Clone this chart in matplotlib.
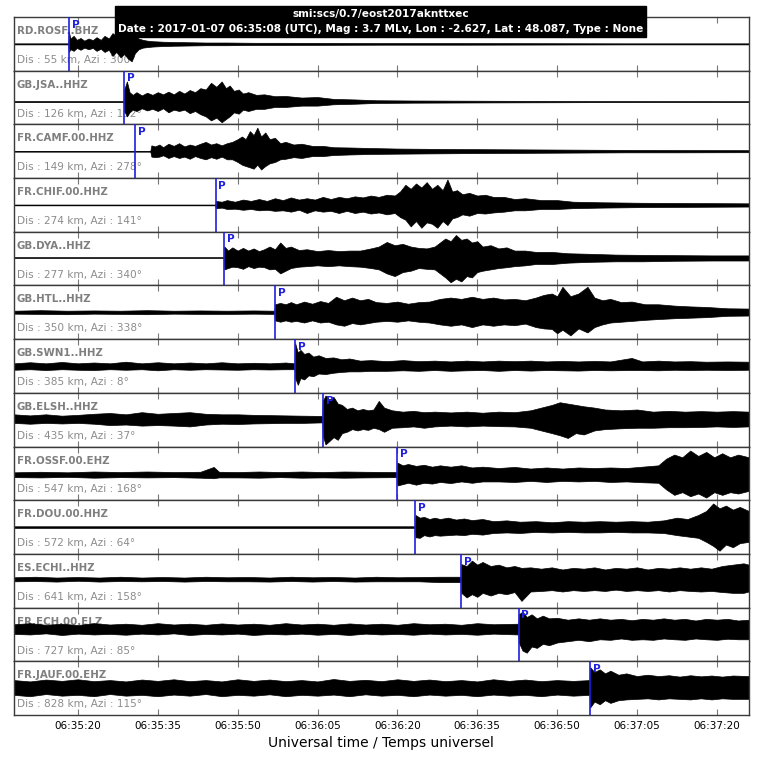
import numpy as np
import matplotlib
matplotlib.use("Agg")
import matplotlib.pyplot as plt
from datetime import datetime

# event origin / start of the time window
ORIGIN = "2017-01-07 06:35:08"
WINDOW = 138.0  # seconds shown

TITLE_1 = "smi:scs/0.7/eost2017aknttxec"
TITLE_2 = ("Date : 2017-01-07 06:35:08 (UTC), Mag : 3.7 MLv, Lon : -2.627, "
           "Lat : 48.087, Type : None")

TICK_LABELS = ["06:35:20", "06:35:35", "06:35:50", "06:36:05", "06:36:20",
               "06:36:35", "06:36:50", "06:37:05", "06:37:20"]

STATIONS = ["RD.ROSF..BHZ", "GB.JSA..HHZ", "FR.CAMF.00.HHZ", "FR.CHIF.00.HHZ",
            "GB.DYA..HHZ", "GB.HTL..HHZ", "GB.SWN1..HHZ", "GB.ELSH..HHZ",
            "FR.OSSF.00.EHZ", "FR.DOU.00.HHZ", "ES.ECHI..HHZ", "FR.ECH.00.ELZ",
            "FR.JAUF.00.EHZ"]
DIST_KM = [55, 126, 149, 274, 277, 350, 385, 435, 547, 572, 641, 727, 828]
AZI_DEG = [300, 152, 278, 141, 340, 338, 8, 37, 168, 64, 158, 85, 115]
# P pick, seconds after origin
P_PICK = [10.3, 20.7, 22.8, 37.9, 39.5, 49.0, 52.8, 58.0, 72.0, 75.4, 84.0, 94.8, 108.2]

# trace envelopes: (seconds, upper, lower), panel units -1..1
ROSF = [(0, 0.02, -0.02), (10.2, 0.02, -0.02), (10.3, 0.45, -0.3), (10.6, 0.2, -0.2),
        (11.2, 0.3, -0.26), (11.8, 0.15, -0.15), (12.5, 0.22, -0.22), (13.2, 0.12, -0.14),
        (14, 0.2, -0.2), (14.8, 0.14, -0.15), (15.5, 0.25, -0.26), (16.3, 0.15, -0.18),
        (17, 0.3, -0.3), (17.8, 0.2, -0.22), (18.5, 0.4, -0.45), (19.2, 0.3, -0.3),
        (20, 0.45, -0.5), (20.7, 0.35, -0.38), (21.4, 0.5, -0.55), (22.1, 0.4, -0.65),
        (22.7, 0.3, -0.35), (23.4, 0.2, -0.2), (24.2, 0.15, -0.14), (25, 0.12, -0.12),
        (26, 0.1, -0.1), (28, 0.08, -0.08), (30, 0.07, -0.07), (33, 0.06, -0.06),
        (36, 0.05, -0.05), (40, 0.05, -0.05), (45, 0.04, -0.04), (50, 0.04, -0.04),
        (60, 0.035, -0.035), (70, 0.03, -0.03), (85, 0.03, -0.03), (100, 0.025, -0.025),
        (115, 0.02, -0.02), (138, 0.02, -0.02)]

JSA = [(0, -0.13, -0.17), (20.6, -0.13, -0.17), (20.7, 0.3, -0.5), (21.2, 0.6, -0.7),
       (21.7, 0.2, -0.55), (22.3, 0.1, -0.45), (23, 0.2, -0.5), (24, 0.08, -0.4),
       (25, 0.18, -0.48), (26, 0.1, -0.42), (27, 0.2, -0.5), (28, 0.12, -0.4),
       (29, 0.22, -0.55), (30, 0.12, -0.45), (31, 0.25, -0.5), (32, 0.15, -0.45),
       (33, 0.28, -0.58), (34, 0.2, -0.5), (35, 0.35, -0.62), (36, 0.3, -0.7),
       (37, 0.55, -0.85), (38, 0.4, -0.75), (39, 0.6, -0.92), (39.8, 0.35, -0.8),
       (40.5, 0.45, -0.7), (41.3, 0.25, -0.55), (42.2, 0.3, -0.6), (43, 0.15, -0.45),
       (44, 0.2, -0.5), (45.5, 0.1, -0.42), (47, 0.12, -0.42), (49, 0.05, -0.35),
       (51, 0.06, -0.35), (54, 0.0, -0.3), (57, 0.02, -0.3), (60, -0.05, -0.25),
       (64, -0.07, -0.23), (68, -0.1, -0.2), (75, -0.11, -0.19), (90, -0.12, -0.18),
       (110, -0.13, -0.17), (138, -0.135, -0.165)]

CAMF = [(0, 0.015, -0.015), (25.6, 0.015, -0.015), (25.8, 0.22, -0.2), (26.5, 0.18, -0.22),
        (27.3, 0.25, -0.2), (28, 0.15, -0.15), (29, 0.28, -0.25), (30, 0.2, -0.18),
        (31, 0.3, -0.25), (32, 0.18, -0.2), (33, 0.25, -0.28), (34, 0.2, -0.18),
        (35, 0.28, -0.25), (36, 0.35, -0.3), (37, 0.25, -0.22), (38, 0.3, -0.28),
        (39, 0.22, -0.2), (40, 0.3, -0.3), (41, 0.35, -0.3), (42, 0.45, -0.4),
        (42.8, 0.55, -0.5), (43.5, 0.45, -0.55), (44.3, 0.75, -0.6), (45, 0.6, -0.65),
        (45.7, 0.88, -0.5), (46.4, 0.55, -0.68), (47.2, 0.7, -0.55), (48, 0.45, -0.45),
        (49, 0.5, -0.4), (50, 0.3, -0.3), (51, 0.35, -0.28), (52.5, 0.25, -0.22),
        (54, 0.28, -0.25), (56, 0.2, -0.18), (58, 0.2, -0.18), (60, 0.15, -0.14),
        (63, 0.14, -0.12), (67, 0.12, -0.1), (72, 0.1, -0.09), (78, 0.09, -0.08),
        (85, 0.08, -0.07), (95, 0.07, -0.06), (105, 0.06, -0.05), (115, 0.05, -0.04),
        (125, 0.045, -0.04), (138, 0.04, -0.035)]

CHIF = [(0, 0.015, -0.015), (37.8, 0.015, -0.015), (37.9, 0.15, -0.12), (39, 0.12, -0.1),
        (40, 0.18, -0.15), (41.5, 0.12, -0.14), (43, 0.2, -0.18), (44.5, 0.15, -0.15),
        (46, 0.22, -0.2), (47.5, 0.15, -0.18), (49, 0.25, -0.22), (50.5, 0.18, -0.2),
        (52, 0.28, -0.25), (53.5, 0.2, -0.18), (55, 0.25, -0.3), (56.5, 0.2, -0.2),
        (58, 0.3, -0.25), (59.5, 0.22, -0.22), (61, 0.3, -0.3), (62.5, 0.25, -0.22),
        (64, 0.32, -0.3), (65.5, 0.28, -0.25), (67, 0.35, -0.32), (68.5, 0.3, -0.28),
        (70, 0.38, -0.35), (71.5, 0.35, -0.3), (72.5, 0.5, -0.45), (73.5, 0.75, -0.55),
        (74.5, 0.6, -0.8), (75.5, 0.8, -0.6), (76.5, 0.65, -0.85), (77.5, 0.85, -0.65),
        (78.5, 0.6, -0.7), (79.5, 0.75, -0.85), (80.5, 0.55, -0.6), (81.4, 0.95, -0.75),
        (82.3, 0.5, -0.5), (83.2, 0.55, -0.45), (84.2, 0.4, -0.35), (85.5, 0.45, -0.4),
        (87, 0.35, -0.3), (88.5, 0.38, -0.32), (90, 0.3, -0.28), (92, 0.3, -0.25),
        (94, 0.22, -0.2), (96, 0.25, -0.2), (99, 0.18, -0.15), (102, 0.18, -0.15),
        (105, 0.12, -0.12), (110, 0.1, -0.1), (118, 0.08, -0.08), (128, 0.07, -0.07),
        (138, 0.06, -0.06)]

DYA = [(0, 0.055, 0.025), (39.4, 0.055, 0.025), (39.5, 0.45, -0.4), (40.2, 0.3, -0.35),
       (41, 0.42, -0.3), (42, 0.3, -0.32), (43, 0.4, -0.38), (44, 0.3, -0.28),
       (45, 0.38, -0.35), (46, 0.28, -0.3), (47, 0.35, -0.32), (48, 0.45, -0.4),
       (49, 0.35, -0.38), (50, 0.6, -0.55), (51, 0.4, -0.45), (52, 0.45, -0.35),
       (53.5, 0.32, -0.3), (55, 0.35, -0.28), (57, 0.28, -0.25), (59, 0.32, -0.28),
       (61, 0.28, -0.25), (63, 0.3, -0.28), (65, 0.3, -0.3), (67, 0.38, -0.35),
       (68.5, 0.45, -0.4), (70, 0.62, -0.55), (71.5, 0.5, -0.65), (73, 0.55, -0.5),
       (74.5, 0.45, -0.45), (76, 0.4, -0.35), (77.5, 0.38, -0.38), (79, 0.45, -0.4),
       (80, 0.6, -0.55), (81, 0.75, -0.7), (82, 0.65, -0.88), (83, 0.88, -0.75),
       (84, 0.7, -0.85), (85, 0.75, -0.65), (86, 0.6, -0.7), (87, 0.65, -0.5),
       (88, 0.45, -0.45), (89.5, 0.5, -0.4), (91, 0.38, -0.35), (92.5, 0.42, -0.32),
       (94, 0.3, -0.28), (96, 0.3, -0.25), (98, 0.25, -0.2), (101, 0.25, -0.2),
       (104, 0.2, -0.15), (108, 0.18, -0.12), (113, 0.15, -0.1), (118, 0.14, -0.1),
       (124, 0.13, -0.08), (131, 0.12, -0.07), (138, 0.12, -0.07)]

HTL = [(0, 0.06, -0.05), (5, 0.08, -0.06), (10, 0.06, -0.07), (15, 0.07, -0.05),
       (20, 0.06, -0.06), (25, 0.08, -0.07), (30, 0.06, -0.05), (35, 0.07, -0.06),
       (40, 0.06, -0.06), (45, 0.07, -0.05), (48.9, 0.06, -0.06), (49, 0.3, -0.3),
       (50, 0.35, -0.35), (51, 0.3, -0.3), (52, 0.38, -0.35), (53, 0.3, -0.32),
       (54.5, 0.4, -0.38), (56, 0.32, -0.3), (57.5, 0.42, -0.38), (59, 0.35, -0.35),
       (60.5, 0.58, -0.45), (62, 0.45, -0.5), (63.5, 0.55, -0.4), (65, 0.45, -0.45),
       (66.5, 0.5, -0.4), (68, 0.38, -0.35), (70, 0.35, -0.32), (72, 0.4, -0.35),
       (74, 0.32, -0.3), (76, 0.38, -0.35), (78, 0.4, -0.38), (80, 0.5, -0.45),
       (82, 0.55, -0.5), (84, 0.5, -0.45), (86, 0.58, -0.55), (88, 0.5, -0.45),
       (90, 0.55, -0.5), (92, 0.48, -0.45), (94, 0.5, -0.48), (96, 0.45, -0.42),
       (98, 0.55, -0.55), (99.5, 0.65, -0.6), (101, 0.7, -0.62), (102, 0.6, -0.78),
       (103, 0.95, -0.65), (104.5, 0.6, -0.86), (106, 0.7, -0.6), (107.7, 0.95, -0.75),
       (109, 0.55, -0.55), (110.5, 0.45, -0.45), (112, 0.5, -0.38), (114, 0.38, -0.35),
       (116, 0.4, -0.32), (118.5, 0.3, -0.28), (121, 0.3, -0.25), (124, 0.25, -0.22),
       (127, 0.22, -0.2), (130, 0.2, -0.18), (134, 0.15, -0.13), (138, 0.14, -0.12)]

SWN1 = [(0, 0.1, -0.14), (3, 0.14, -0.12), (6, 0.1, -0.15), (9, 0.15, -0.12),
        (12, 0.1, -0.14), (15, 0.13, -0.15), (18, 0.1, -0.12), (21, 0.16, -0.14),
        (24, 0.1, -0.12), (27, 0.14, -0.16), (30, 0.1, -0.12), (33, 0.13, -0.14),
        (36, 0.1, -0.12), (39, 0.14, -0.13), (42, 0.1, -0.14), (45, 0.12, -0.12),
        (48, 0.1, -0.13), (51, 0.13, -0.12), (52.7, 0.1, -0.12), (52.8, 0.85, -0.45),
        (53.3, 0.5, -0.7), (53.8, 0.6, -0.45), (54.5, 0.45, -0.5), (55.3, 0.5, -0.35),
        (56.2, 0.35, -0.38), (57.2, 0.4, -0.28), (58.5, 0.3, -0.3), (60, 0.32, -0.25),
        (61.5, 0.25, -0.22), (63, 0.28, -0.2), (65, 0.2, -0.2), (67, 0.22, -0.18),
        (70, 0.18, -0.18), (73, 0.22, -0.16), (76, 0.18, -0.18), (79, 0.2, -0.15),
        (82, 0.17, -0.18), (85, 0.2, -0.16), (88, 0.17, -0.15), (91, 0.2, -0.18),
        (94, 0.18, -0.15), (97, 0.2, -0.17), (100, 0.17, -0.15), (103, 0.19, -0.16),
        (106, 0.17, -0.17), (109, 0.19, -0.15), (112, 0.17, -0.16), (116, 0.3, -0.15),
        (118, 0.17, -0.15), (121, 0.2, -0.16), (124, 0.17, -0.14), (127, 0.18, -0.15),
        (130, 0.16, -0.14), (134, 0.17, -0.15), (138, 0.16, -0.14)]

ELSH = [(0, 0.2, -0.12), (3, 0.16, -0.15), (6, 0.2, -0.12), (9, 0.15, -0.14),
        (12, 0.18, -0.12), (15, 0.22, -0.15), (18, 0.25, -0.2), (21, 0.2, -0.18),
        (24, 0.28, -0.22), (27, 0.22, -0.2), (30, 0.25, -0.22), (33, 0.28, -0.25),
        (36, 0.22, -0.18), (39, 0.2, -0.15), (42, 0.2, -0.16), (45, 0.18, -0.14),
        (48, 0.17, -0.13), (51, 0.16, -0.12), (54, 0.15, -0.12), (57.9, 0.14, -0.1),
        (58, 0.7, -0.6), (58.5, 0.9, -0.92), (59.2, 0.75, -0.8), (60, 0.85, -0.65),
        (60.8, 0.6, -0.75), (61.6, 0.55, -0.5), (62.5, 0.4, -0.45), (63.5, 0.45, -0.35),
        (64.5, 0.35, -0.4), (65.5, 0.4, -0.35), (66.5, 0.35, -0.38), (67.5, 0.38, -0.3),
        (68.5, 0.7, -0.35), (69.5, 0.45, -0.45), (71, 0.35, -0.3), (73, 0.3, -0.28),
        (75, 0.33, -0.25), (77, 0.28, -0.3), (79, 0.3, -0.25), (82, 0.27, -0.22),
        (85, 0.3, -0.25), (88, 0.26, -0.22), (91, 0.3, -0.24), (94, 0.28, -0.25),
        (97, 0.35, -0.3), (99, 0.45, -0.4), (101, 0.55, -0.5), (102.5, 0.65, -0.58),
        (104, 0.6, -0.68), (105.5, 0.55, -0.5), (107, 0.5, -0.55), (109, 0.45, -0.4),
        (111, 0.38, -0.35), (114, 0.35, -0.32), (117, 0.38, -0.3), (120, 0.3, -0.3),
        (123, 0.33, -0.28), (126, 0.3, -0.28), (129, 0.32, -0.27), (132, 0.3, -0.25),
        (135, 0.32, -0.27), (138, 0.3, -0.25)]

OSSF = [(0, 0.04, -0.14), (5, 0.06, -0.15), (10, 0.04, -0.13), (15, 0.07, -0.16),
        (20, 0.05, -0.14), (25, 0.07, -0.15), (30, 0.05, -0.14), (35, 0.06, -0.16),
        (37.5, 0.24, -0.18), (38.5, 0.06, -0.15), (42, 0.05, -0.15), (46, 0.07, -0.16),
        (50, 0.05, -0.14), (54, 0.07, -0.16), (58, 0.05, -0.15), (62, 0.07, -0.16),
        (66, 0.06, -0.15), (71.9, 0.05, -0.14), (72, 0.4, -0.45), (73, 0.3, -0.4),
        (74, 0.35, -0.35), (75.5, 0.28, -0.42), (77, 0.32, -0.35), (78.5, 0.25, -0.38),
        (80, 0.3, -0.32), (82, 0.25, -0.36), (84, 0.3, -0.3), (86, 0.22, -0.35),
        (88, 0.25, -0.3), (91, 0.2, -0.3), (94, 0.24, -0.32), (97, 0.18, -0.28),
        (100, 0.22, -0.32), (103, 0.18, -0.28), (106, 0.22, -0.3), (109, 0.2, -0.28),
        (112, 0.22, -0.32), (115, 0.2, -0.3), (118, 0.25, -0.33), (121, 0.3, -0.35),
        (122.5, 0.55, -0.6), (124, 0.7, -0.8), (125.5, 0.6, -0.7), (127, 0.85, -0.85),
        (128.5, 0.65, -0.75), (130, 0.8, -0.9), (131.5, 0.6, -0.7), (133, 0.75, -0.8),
        (134.5, 0.6, -0.7), (136, 0.7, -0.75), (138, 0.6, -0.65)]

DOU = [(0, 0.03, -0.03), (75.3, 0.03, -0.03), (75.4, 0.45, -0.38), (76.2, 0.35, -0.4),
       (77, 0.38, -0.3), (78, 0.3, -0.35), (79, 0.35, -0.3), (80, 0.3, -0.32),
       (81.5, 0.35, -0.3), (83, 0.28, -0.28), (84.5, 0.32, -0.3), (86, 0.26, -0.25),
       (88, 0.3, -0.28), (90, 0.22, -0.22), (92.5, 0.25, -0.2), (95, 0.2, -0.22),
       (98, 0.22, -0.18), (101, 0.18, -0.2), (104, 0.22, -0.18), (107, 0.2, -0.2),
       (110, 0.22, -0.2), (113, 0.2, -0.18), (116, 0.22, -0.2), (119, 0.2, -0.2),
       (122, 0.25, -0.22), (124.5, 0.35, -0.3), (126.5, 0.3, -0.35), (128.5, 0.45, -0.4),
       (130, 0.6, -0.55), (131.3, 0.88, -0.7), (132.5, 0.7, -0.88), (133.7, 0.8, -0.65),
       (135, 0.65, -0.75), (136.3, 0.75, -0.6), (138, 0.6, -0.55)]

ECHI = [(0, 0.13, -0.02), (4, 0.15, -0.01), (8, 0.12, -0.03), (12, 0.14, 0.0),
        (16, 0.12, -0.03), (20, 0.15, -0.01), (24, 0.12, -0.02), (28, 0.14, -0.01),
        (32, 0.12, -0.03), (36, 0.15, -0.01), (40, 0.13, -0.02), (44, 0.14, -0.02),
        (48, 0.12, -0.03), (52, 0.15, -0.01), (56, 0.13, -0.03), (60, 0.14, -0.01),
        (64, 0.12, -0.03), (68, 0.15, -0.02), (72, 0.13, -0.02), (76, 0.14, -0.02),
        (80, 0.15, -0.05), (83.9, 0.15, -0.05), (84, 0.62, -0.45), (85, 0.55, -0.62),
        (86, 0.75, -0.5), (87, 0.6, -0.6), (88, 0.7, -0.45), (89.5, 0.55, -0.55),
        (91, 0.6, -0.45), (92.5, 0.5, -0.5), (94, 0.55, -0.42), (95.3, 0.48, -0.75),
        (97, 0.5, -0.4), (99, 0.45, -0.38), (101, 0.5, -0.35), (103, 0.42, -0.4),
        (105, 0.48, -0.35), (107, 0.45, -0.38), (109, 0.5, -0.35), (111, 0.42, -0.38),
        (113, 0.48, -0.33), (115, 0.45, -0.38), (117, 0.5, -0.35), (119, 0.42, -0.38),
        (121, 0.48, -0.35), (123, 0.45, -0.4), (125, 0.5, -0.35), (127, 0.45, -0.38),
        (129, 0.5, -0.4), (131, 0.45, -0.38), (133, 0.55, -0.42), (135, 0.6, -0.45),
        (137, 0.65, -0.45), (138, 0.6, -0.4)]

ECH = [(0, 0.38, 0.02), (3, 0.42, 0.0), (6, 0.36, 0.04), (9, 0.4, -0.02),
       (12, 0.35, 0.03), (15, 0.42, 0.0), (18, 0.37, 0.02), (21, 0.4, -0.01),
       (24, 0.36, 0.03), (27, 0.42, 0.0), (30, 0.37, 0.04), (33, 0.4, -0.02),
       (36, 0.36, 0.02), (39, 0.41, 0.0), (42, 0.37, 0.03), (45, 0.4, -0.02),
       (48, 0.36, 0.02), (51, 0.42, 0.0), (54, 0.37, 0.03), (57, 0.4, -0.01),
       (60, 0.36, 0.02), (63, 0.41, -0.02), (66, 0.37, 0.03), (69, 0.4, 0.0),
       (72, 0.36, 0.02), (75, 0.42, -0.01), (78, 0.38, 0.03), (81, 0.4, 0.0),
       (84, 0.36, 0.02), (87, 0.42, -0.01), (90, 0.38, 0.03), (94.7, 0.4, 0.0),
       (94.8, 0.75, -0.3), (95.5, 0.85, -0.6), (96.3, 0.65, -0.68), (97.2, 0.75, -0.45),
       (98.2, 0.6, -0.5), (99.3, 0.7, -0.35), (100.5, 0.6, -0.4), (102, 0.62, -0.3),
       (104, 0.55, -0.25), (106, 0.6, -0.2), (108, 0.55, -0.25), (110, 0.6, -0.18),
       (112, 0.55, -0.2), (114, 0.58, -0.15), (116, 0.53, -0.2), (118, 0.58, -0.18),
       (120, 0.55, -0.2), (122, 0.6, -0.15), (124, 0.55, -0.18), (126, 0.58, -0.2),
       (128, 0.52, -0.15), (130, 0.58, -0.18), (132, 0.55, -0.2), (134, 0.58, -0.16),
       (136, 0.52, -0.18), (138, 0.55, -0.18)]

JAUF = [(0, 0.3, -0.25), (3, 0.25, -0.3), (6, 0.32, -0.22), (9, 0.27, -0.28),
        (12, 0.33, -0.25), (15, 0.26, -0.3), (18, 0.3, -0.22), (21, 0.25, -0.28),
        (24, 0.32, -0.25), (27, 0.27, -0.3), (30, 0.33, -0.24), (33, 0.26, -0.28),
        (36, 0.3, -0.22), (39, 0.25, -0.3), (42, 0.33, -0.25), (45, 0.27, -0.28),
        (48, 0.32, -0.23), (51, 0.26, -0.3), (54, 0.3, -0.25), (57, 0.25, -0.28),
        (60, 0.34, -0.24), (63, 0.27, -0.3), (66, 0.31, -0.23), (69, 0.26, -0.28),
        (72, 0.33, -0.25), (75, 0.27, -0.3), (78, 0.32, -0.24), (81, 0.26, -0.28),
        (84, 0.3, -0.25), (87, 0.25, -0.3), (90, 0.33, -0.24), (93, 0.27, -0.28),
        (96, 0.32, -0.25), (99, 0.26, -0.3), (102, 0.3, -0.24), (105, 0.27, -0.28),
        (108.1, 0.3, -0.25), (108.2, 0.78, -0.72), (109, 0.6, -0.5), (110, 0.7, -0.6),
        (111, 0.55, -0.45), (112, 0.65, -0.55), (113.5, 0.5, -0.45), (115, 0.55, -0.42),
        (117, 0.45, -0.4), (119, 0.5, -0.38), (121, 0.45, -0.42), (123, 0.48, -0.38),
        (125, 0.43, -0.4), (127, 0.48, -0.42), (129, 0.44, -0.38), (131, 0.47, -0.42),
        (133, 0.43, -0.38), (135, 0.47, -0.4), (138, 0.45, -0.4)]

TRACES = [ROSF, JSA, CAMF, CHIF, DYA, HTL, SWN1, ELSH, OSSF, DOU, ECHI, ECH, JAUF]


t0 = datetime.strptime(ORIGIN, "%Y-%m-%d %H:%M:%S")
day = t0.strftime("%Y-%m-%d ")
tick_pos = [(datetime.strptime(day + s, "%Y-%m-%d %H:%M:%S") - t0).total_seconds()
            for s in TICK_LABELS]

fig, axes = plt.subplots(len(STATIONS), 1, sharex=True, figsize=(7.61, 7.57), dpi=100)
fig.subplots_adjust(left=0.0184, right=0.984, top=0.9775, bottom=0.0555, hspace=0)

for i, ax in enumerate(axes):
    tr = np.array(TRACES[i])
    ax.fill_between(tr[:, 0], tr[:, 2], tr[:, 1], color="black", lw=0.5, zorder=2)
    ax.set_xlim(0, WINDOW)
    ax.set_ylim(-1, 1)
    ax.set_yticks([])
    ax.set_xticks(tick_pos)
    ax.tick_params(axis="x", direction="in", top=True, bottom=True, length=4,
                   width=0.8, color="#777777", labelbottom=(i == len(axes) - 1),
                   labelsize=7.5, pad=4)
    for sp in ax.spines.values():
        sp.set_color("#3a3a3a")
        sp.set_linewidth(1.0)
    ax.text(0.004, 0.74, STATIONS[i], transform=ax.transAxes, fontsize=7.4,
            fontweight="bold", color="#7f7f7f", va="center", ha="left", zorder=1)
    ax.text(0.004, 0.2, "Dis : %d km, Azi : %d°" % (DIST_KM[i], AZI_DEG[i]),
            transform=ax.transAxes, fontsize=7.6, color="#8c8c8c", va="center",
            ha="left", zorder=1)
    ax.axvline(P_PICK[i], color="#1f1fe0", lw=1.2, zorder=3)
    ax.text(P_PICK[i] + 0.5, 0.9, "P", fontsize=7.5, fontweight="bold",
            color="#1f1fe0", va="top", ha="left", zorder=3)

axes[-1].set_xticklabels(TICK_LABELS)
axes[-1].set_xlabel("Universal time / Temps universel", fontsize=10, labelpad=4)

fig.text(0.5, 0.9716, TITLE_1 + "\n" + TITLE_2, ha="center", va="center",
         color="white", fontsize=7.6, fontweight="bold", linespacing=1.6,
         bbox=dict(boxstyle="square,pad=0.28", fc="black", ec="black"), zorder=10)

fig.savefig("out.png", dpi=100)
